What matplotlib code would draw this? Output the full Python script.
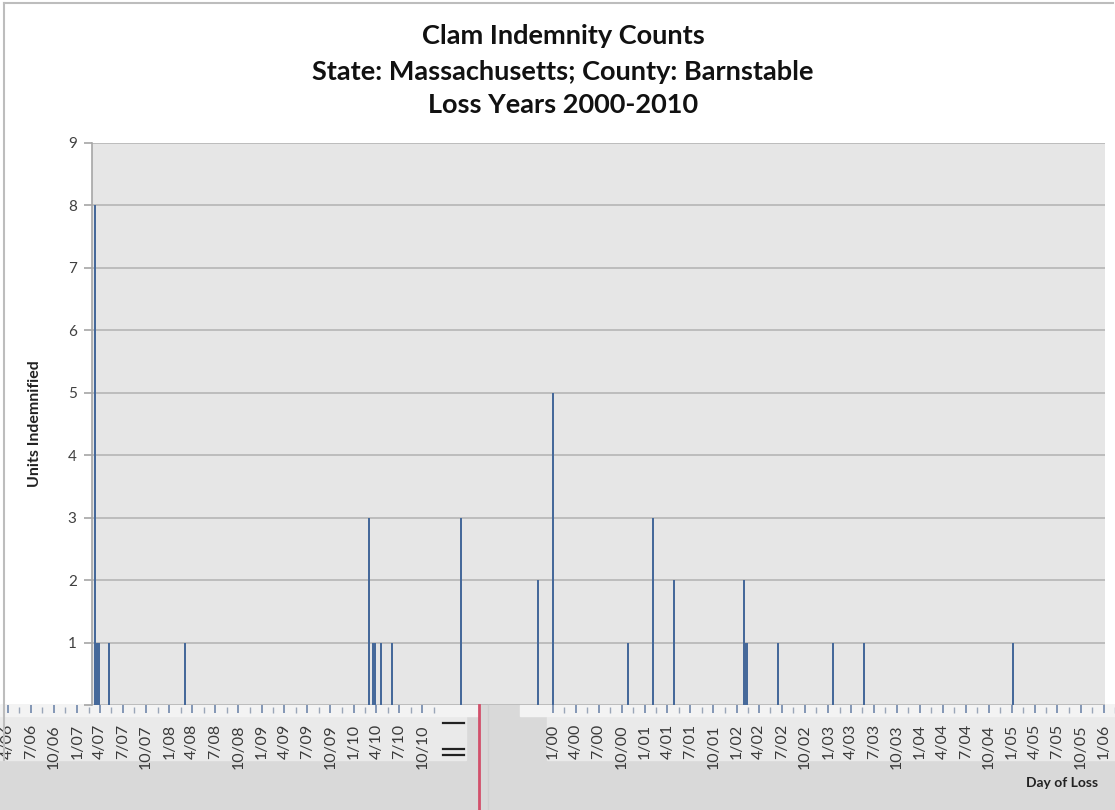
import datetime as dt

import matplotlib
matplotlib.use("Agg")
import matplotlib.pyplot as plt
from matplotlib.lines import Line2D
from matplotlib.patches import Rectangle

plt.rcParams['font.family'] = ['Lato', 'DejaVu Sans']

# ---- data ----
loss_days = ["2000-01-11", "2000-01-20", "2000-01-27", "2000-03-10", "2001-01-02",
             "2003-01-04", "2003-01-21", "2003-01-27", "2003-02-22", "2003-04-06",
             "2004-01-04", "2004-11-03", "2005-01-02", "2005-10-26", "2006-02-02",
             "2006-04-28", "2007-01-31", "2007-02-06", "2007-02-12", "2007-06-15",
             "2008-01-18", "2008-05-21", "2010-01-02"]
units = [8, 1, 1, 1, 1,
         3, 1, 1, 1, 1,
         3, 2, 5, 1, 3,
         2, 2, 1, 1, 1,
         1, 1, 1]

title_lines = ["Clam Indemnity Counts",
               "State: Massachusetts; County: Barnstable",
               "Loss Years 2000-2010"]
y_ticks = [0, 1, 2, 3, 4, 5, 6, 7, 8, 9]

# the date labels under the chart show up scrolled: the later quarters
# sit on the left, the earlier ones on the right of a red divider
left_labels = ["4/06", "7/06", "10/06", "1/07", "4/07", "7/07", "10/07", "1/08",
               "4/08", "7/08", "10/08", "1/09", "4/09", "7/09", "10/09", "1/10",
               "4/10", "7/10", "10/10"]
right_labels = ["1/00", "4/00", "7/00", "10/00", "1/01", "4/01", "7/01", "10/01",
                "1/02", "4/02", "7/02", "10/02", "1/03", "4/03", "7/03", "10/03",
                "1/04", "4/04", "7/04", "10/04", "1/05", "4/05", "7/05", "10/05",
                "1/06"]


def to_date(s):
    return dt.datetime.strptime(s, "%Y-%m-%d")


def label_date(s):
    m, y = s.split("/")
    return dt.datetime(2000 + int(y), int(m), 1)


W, H = 1115, 810


def fx(px):
    return px / W


def fy(py):
    return 1 - py / H


fig = plt.figure(figsize=(W / 100, H / 100), dpi=100)

# strip below the plot
fig.add_artist(Rectangle((0, 0), 1, fy(705), transform=fig.transFigure,
                         color='#D9D9D9', zorder=0))
fig.add_artist(Rectangle((0, fy(760)), fx(466), fy(705) - fy(760), transform=fig.transFigure,
                         color='#EAEAEA', zorder=0))
fig.add_artist(Rectangle((fx(547), fy(760)), 1 - fx(547), fy(705) - fy(760),
                         transform=fig.transFigure, color='#EAEAEA', zorder=0))
fig.add_artist(Rectangle((0, fy(716)), fx(478), fy(705) - fy(716), transform=fig.transFigure,
                         color='#F3F3F3', zorder=0))
fig.add_artist(Rectangle((fx(520), fy(716)), 1 - fx(520), fy(705) - fy(716),
                         transform=fig.transFigure, color='#F3F3F3', zorder=0))

# chart border
border = '#BDBDBD'
fig.add_artist(Line2D([fx(4), fx(4)], [fy(3), fy(760)], color=border, lw=1.5))
fig.add_artist(Line2D([fx(4), fx(1113)], [fy(3), fy(3)], color=border, lw=1.5))

# main plot
ax = fig.add_axes([fx(92), fy(705), fx(1105) - fx(92), fy(143) - fy(705)])
ax.set_facecolor('#E6E6E6')
ax.bar([to_date(d) for d in loss_days], units, width=8, color='#46699A',
       linewidth=0, zorder=3)
x0, x1 = dt.datetime(2000, 1, 1), dt.datetime(2011, 1, 1)
ax.set_xlim(x0, x1)
ax.set_ylim(0, 9)
ax.set_yticks(y_ticks)
ax.set_yticklabels([''] + [str(v) for v in y_ticks[1:]])
ax.set_xticks([])
ax.grid(axis='y', color='#BCBCBC', lw=1.4, zorder=1)
ax.tick_params(axis='y', length=6, width=1.2, color='#A6A6A6', labelsize=11,
               labelcolor='#404040', pad=5)
for side in ['top', 'right', 'bottom']:
    ax.spines[side].set_visible(False)
ax.spines['left'].set_color('#A6A6A6')
ax.spines['left'].set_linewidth(1.2)

days_per_px = (x1 - x0).days / (1105 - 92)


def strip(left_px, right_px, labels, anchor_px):
    a = fig.add_axes([fx(left_px), fy(713), fx(right_px) - fx(left_px), fy(705) - fy(713)])
    a.patch.set_alpha(0)
    first = label_date(labels[0])
    a.set_xlim(first - dt.timedelta(days=(anchor_px - left_px) * days_per_px),
               first + dt.timedelta(days=(right_px - anchor_px) * days_per_px))
    a.set_ylim(0, 1)
    dates = [label_date(s) for s in labels]
    a.set_xticks(dates)
    a.set_xticklabels(labels, rotation=90, rotation_mode='anchor', ha='right',
                      va='center', fontsize=11.5, color='#3A3A3A')
    a.set_xticks([d + dt.timedelta(days=45) for d in dates], minor=True)
    a.tick_params(axis='x', which='major', direction='in', length=6, width=1.2,
                  color='#6F86AA', pad=8)
    a.tick_params(axis='x', which='minor', direction='in', length=4, width=1,
                  color='#9AA6B8')
    a.set_yticks([])
    for s in a.spines.values():
        s.set_visible(False)
    return a


strip(0, 478, left_labels, 8)
strip(483, W, right_labels, 553)

# stray marks left of the divider
for y in [723, 749, 755]:
    fig.add_artist(Line2D([fx(443), fx(464)], [fy(y), fy(y)], color='#222222', lw=1.6))

# divider in the strip
fig.add_artist(Line2D([fx(479), fx(479)], [0, fy(705)], color='#D2506B', lw=2))
fig.add_artist(Line2D([fx(488), fx(488)], [0, fy(705)], color='#CFCFCF', lw=1))

# titles
for text, y in zip(title_lines, [36, 72, 105]):
    fig.text(fx(563), fy(y), text, ha='center', va='center', fontsize=19.5,
             fontweight='bold', color='#111111')

fig.text(fx(35), fy(424), 'Units Indemnified', rotation=90, ha='center', va='center',
         fontsize=11.5, fontweight='bold', color='#222222')
fig.text(fx(1062), fy(783), 'Day of Loss', ha='center', va='center',
         fontsize=10, fontweight='bold', color='#222222')

fig.savefig('out.png', dpi=100)
